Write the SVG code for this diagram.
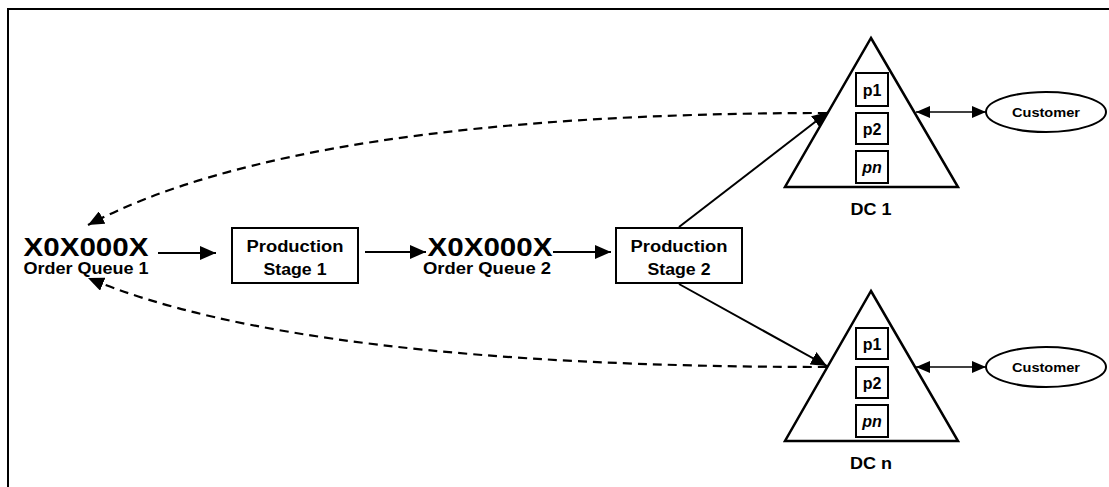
<svg xmlns="http://www.w3.org/2000/svg" width="1109" height="487" viewBox="0 0 1109 487">
<style>
text{font-family:"Liberation Sans",Arial,sans-serif;font-weight:bold;fill:#000}
.box{fill:#fff;stroke:#000;stroke-width:2}
.tri{fill:#fff;stroke:#000;stroke-width:2.5}
.ln{fill:none;stroke:#000;stroke-width:2}
.dash{fill:none;stroke:#000;stroke-width:2.2;stroke-dasharray:9,6}
.thin{fill:none;stroke:#000;stroke-width:1.5}
.big{font-size:26px}
.lbl{font-size:16px}
.cust{font-size:13px}
</style>
<defs>
<marker id="ah" markerUnits="userSpaceOnUse" markerWidth="16" markerHeight="14" refX="16" refY="7" orient="auto-start-reverse" viewBox="0 0 16 14">
<path d="M0,0 L16,7 L0,14 z" fill="#000"/>
</marker>
<marker id="ahs" markerUnits="userSpaceOnUse" markerWidth="14" markerHeight="12" refX="14" refY="6" orient="auto-start-reverse" viewBox="0 0 14 12">
<path d="M0,0 L14,6 L0,12 z" fill="#000"/>
</marker>
</defs>
<rect x="8" y="9" width="1200" height="600" fill="none" stroke="#000" stroke-width="2"/>

<g id="queue1">
<text class="big" x="86" y="256" text-anchor="middle" textLength="125" lengthAdjust="spacingAndGlyphs">X0X000X</text>
<text class="lbl" x="86" y="274" text-anchor="middle" textLength="125" lengthAdjust="spacingAndGlyphs">Order Queue 1</text>
</g>
<g id="stage1">
<rect class="box" x="232" y="228" width="126" height="55"/>
<text class="lbl" x="295" y="252" text-anchor="middle" textLength="97" lengthAdjust="spacingAndGlyphs">Production</text>
<text class="lbl" x="295" y="275" text-anchor="middle" textLength="63" lengthAdjust="spacingAndGlyphs">Stage 1</text>
</g>
<g id="queue2">
<text class="big" x="490" y="256" text-anchor="middle" textLength="125" lengthAdjust="spacingAndGlyphs">X0X000X</text>
<text class="lbl" x="487" y="274" text-anchor="middle" textLength="128" lengthAdjust="spacingAndGlyphs">Order Queue 2</text>
</g>
<g id="stage2">
<rect class="box" x="616" y="228" width="126" height="55"/>
<text class="lbl" x="679" y="252" text-anchor="middle" textLength="97" lengthAdjust="spacingAndGlyphs">Production</text>
<text class="lbl" x="679" y="275" text-anchor="middle" textLength="63" lengthAdjust="spacingAndGlyphs">Stage 2</text>
</g>
<g id="dc1">
<polygon class="tri" points="871,38 958,187 785,187"/>
<rect class="box" x="856" y="73" width="32" height="33"/>
<text class="lbl" x="872" y="96" text-anchor="middle">p1</text>
<rect class="box" x="856" y="113" width="32" height="31"/>
<text class="lbl" x="872" y="135" text-anchor="middle">p2</text>
<rect class="box" x="856" y="151" width="32" height="32"/>
<text class="lbl" x="872" y="173" text-anchor="middle" font-style="italic">pn</text>
<text class="lbl" x="871" y="215" text-anchor="middle" textLength="41" lengthAdjust="spacingAndGlyphs">DC 1</text>
</g>
<g id="dcn">
<polygon class="tri" points="871,291 958,441 785,441"/>
<rect class="box" x="856" y="328" width="32" height="31"/>
<text class="lbl" x="872" y="350" text-anchor="middle">p1</text>
<rect class="box" x="856" y="367" width="32" height="31"/>
<text class="lbl" x="872" y="389" text-anchor="middle">p2</text>
<rect class="box" x="856" y="405" width="32" height="32"/>
<text class="lbl" x="872" y="427" text-anchor="middle" font-style="italic">pn</text>
<text class="lbl" x="871" y="469" text-anchor="middle" textLength="42" lengthAdjust="spacingAndGlyphs">DC n</text>
</g>
<g id="customer1">
<ellipse class="box" cx="1046" cy="112" rx="60" ry="20"/>
<text class="cust" x="1046" y="117" text-anchor="middle" textLength="68" lengthAdjust="spacingAndGlyphs">Customer</text>
</g>
<g id="customern">
<ellipse class="box" cx="1046" cy="367" rx="60" ry="20"/>
<text class="cust" x="1046" y="372" text-anchor="middle" textLength="68" lengthAdjust="spacingAndGlyphs">Customer</text>
</g>
<g id="connectors">
<line class="ln" x1="158" y1="253" x2="216" y2="253" marker-end="url(#ah)"/>
<line class="ln" x1="365" y1="252" x2="426" y2="252" marker-end="url(#ah)"/>
<line class="ln" x1="553" y1="252" x2="611" y2="252" marker-end="url(#ah)"/>
<line class="ln" x1="679" y1="227" x2="828" y2="112" marker-end="url(#ah)"/>
<line class="ln" x1="679" y1="284" x2="827" y2="366" marker-end="url(#ah)"/>
<path class="dash" d="M827,113 Q300,113 88,225" marker-end="url(#ah)"/>
<path class="dash" d="M827,367 Q300,367 88,278" marker-end="url(#ah)"/>
<line class="thin" x1="916" y1="112" x2="986" y2="112" marker-start="url(#ahs)" marker-end="url(#ahs)"/>
<line class="thin" x1="916" y1="367" x2="986" y2="367" marker-start="url(#ahs)" marker-end="url(#ahs)"/>
</g>
</svg>
